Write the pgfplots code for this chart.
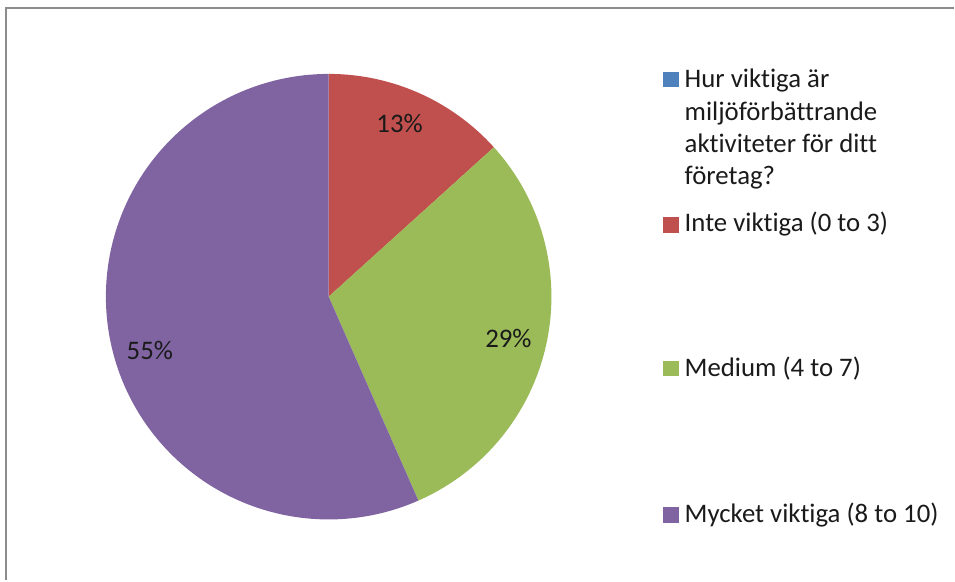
\documentclass[border=0pt]{standalone}
\usepackage{pgfplots}
\pgfplotsset{compat=1.18}
\usepackage{fontspec}
\setmainfont{Carlito}[Ligatures={NoCommon}]
\definecolor{cBlue}{HTML}{4F81BD}
\definecolor{cRed}{HTML}{C0504D}
\definecolor{cGreen}{HTML}{9BBB59}
\definecolor{cPurple}{HTML}{8064A2}
\definecolor{cFrame}{HTML}{8C8C8C}
\definecolor{cText}{HTML}{1A1A1A}
\tikzset{lbl/.style={font=\fontsize{13.4}{16}\selectfont,text=cText,inner sep=0pt}}
% slice shares in percent (clockwise from 12 o'clock)
\def\pRed{13.3}
\def\pGreen{30.1}
\def\pPurple{56.6}
\begin{document}
\begin{tikzpicture}
\begin{axis}[width=477.5pt,height=290.5pt,scale only axis,
  xmin=0,xmax=955,ymin=0,ymax=581,axis lines=none,clip=false]
\path (axis cs:0,0) rectangle (axis cs:955,581);
\def\cx{329}\def\cy{284}\def\pieR{223}
\pgfmathsetmacro{\aA}{90}
\pgfmathsetmacro{\aB}{90-3.6*\pRed}
\pgfmathsetmacro{\aC}{\aB-3.6*\pGreen}
\pgfmathsetmacro{\aD}{\aC-3.6*\pPurple}
\addplot[draw=none,fill=cRed,domain=\aB:\aA,samples=60] ({\cx+\pieR*cos(x)},{\cy+\pieR*sin(x)}) -- (axis cs:\cx,\cy) -- cycle;
\addplot[draw=none,fill=cGreen,domain=\aC:\aB,samples=100] ({\cx+\pieR*cos(x)},{\cy+\pieR*sin(x)}) -- (axis cs:\cx,\cy) -- cycle;
\addplot[draw=none,fill=cPurple,domain=\aD:\aC,samples=160] ({\cx+\pieR*cos(x)},{\cy+\pieR*sin(x)}) -- (axis cs:\cx,\cy) -- cycle;
% data labels
\node[lbl,anchor=base] at (axis cs:400,448) {13\%};
\node[lbl,anchor=base] at (axis cs:509,233) {29\%};
\node[lbl,anchor=base] at (axis cs:150,221) {55\%};
% legend markers
\addplot[only marks,mark=square*,mark size=3.6pt,color=cBlue] coordinates {(671.5,501.3)};
\addplot[only marks,mark=square*,mark size=3.6pt,color=cRed] coordinates {(671.5,356)};
\addplot[only marks,mark=square*,mark size=3.6pt,color=cGreen] coordinates {(671.5,212)};
\addplot[only marks,mark=square*,mark size=3.6pt,color=cPurple] coordinates {(671.5,65.5)};
% legend texts
\node[lbl,anchor=base west] at (axis cs:685,493) {Hur viktiga är};
\node[lbl,anchor=base west] at (axis cs:685,460) {miljöförbättrande};
\node[lbl,anchor=base west] at (axis cs:685,428) {aktiviteter för ditt};
\node[lbl,anchor=base west] at (axis cs:685,396) {företag?};
\node[lbl,anchor=base west] at (axis cs:685,349) {Inte viktiga (0 to 3)};
\node[lbl,anchor=base west] at (axis cs:685,204) {Medium (4 to 7)};
\node[lbl,anchor=base west] at (axis cs:685,58) {Mycket viktiga (8 to 10)};
% chart frame (only left and top edges visible)
\draw[cFrame,line width=1pt] (axis cs:6,0) -- (axis cs:6,573) -- (axis cs:955,573);
\end{axis}
\end{tikzpicture}
\end{document}
